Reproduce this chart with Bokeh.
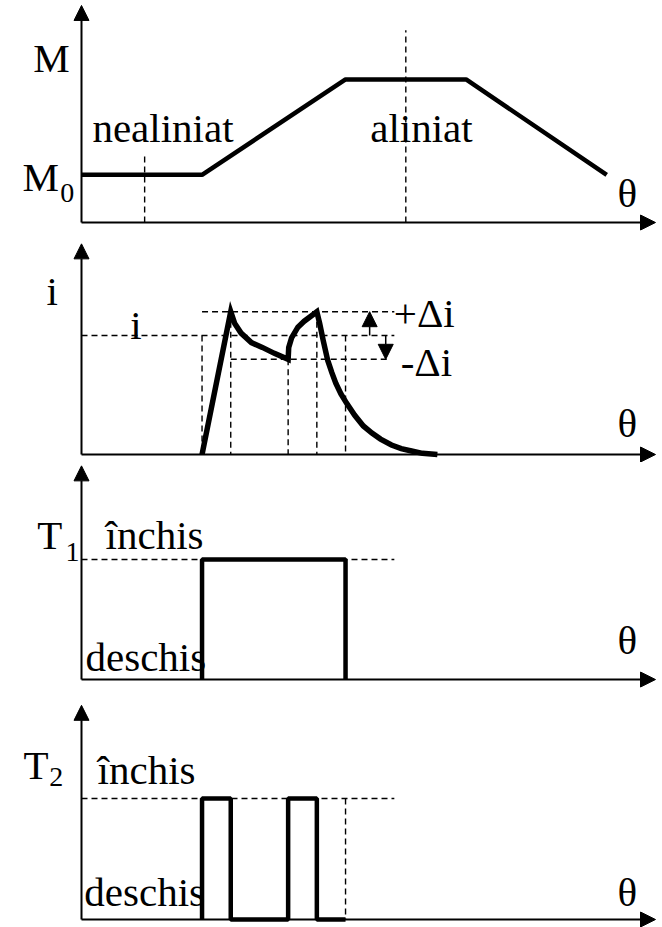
from bokeh.plotting import figure
from bokeh.layouts import column
from bokeh.models import Range1d, Arrow, NormalHead
from bokeh.core.properties import value
from bokeh.embed import file_html
from bokeh.resources import INLINE

# ---------------------------------------------------------------------------
# Data: rotor angle θ (arbitrary units, 0..100 along the axis)
# ---------------------------------------------------------------------------
THETA_END = 100.0

# switching instants of the converter
theta_on, theta_a, theta_b, theta_c, theta_off = 21.0, 26.0, 36.0, 41.0, 46.0
theta_guide_end = 54.5      # where the horizontal guides stop
theta_lower_guide_end = 53.6

# torque profile M(θ)
M0 = 1.0
M_MAX = 3.0
m_theta = [0.0, 21.0, 46.0, 67.0, 91.5]
m_vals = [M0, M0, M_MAX, M_MAX, M0]
theta_unaligned = 11.0
theta_aligned = 56.5
m_unaligned_guide_top = 1.47
m_aligned_guide_top = 4.03

# phase current i(θ) with hysteresis band i_ref ± Δi
i_ref = 1.0
delta_i = 0.2
i_theta = [21.0, 26.0, 26.7, 27.8, 29.6, 31.5, 33.6, 36.0,
           36.1, 36.6, 37.7, 38.8, 39.9, 41.0,
           41.5, 42.1, 42.9, 43.6, 44.3, 45.2, 46.2, 47.6, 49.1,
           50.6, 52.1, 54.0, 55.7, 57.5, 59.4, 62.0]
i_vals = [0.0, 1.2, 1.1, 1.02, 0.94, 0.9, 0.85, 0.8,
          0.9, 0.98, 1.07, 1.12, 1.16, 1.2,
          1.1, 0.96, 0.79, 0.69, 0.6, 0.51, 0.43, 0.33, 0.24,
          0.18, 0.13, 0.08, 0.05, 0.03, 0.01, 0.0]

# switch states: 0 = deschis, 1 = închis
t1_theta = [theta_on, theta_on, theta_off, theta_off]
t1_state = [0, 1, 1, 0]
t2_theta = [theta_on, theta_on, theta_a, theta_a, theta_b, theta_b,
            theta_c, theta_c, theta_off]
t2_state = [0, 1, 1, 0, 0, 1, 1, 0, 0]

# ---------------------------------------------------------------------------
# Layout
# ---------------------------------------------------------------------------
WIDTH = 662
ORIGIN_PX = 81.0          # left offset of the θ = 0 axis
PX_PER_THETA = 5.74
X_START = -ORIGIN_PX / PX_PER_THETA
X_END = (WIDTH - ORIGIN_PX) / PX_PER_THETA

FONT = value("'Liberation Serif', 'Times New Roman', serif")
BIG = 41
SUB = 28
BASELINE_SHIFT = 0.37     # svg text sits this many em below its anchor
DASH = "6 4"


def panel(height, y_start, y_end):
    p = figure(width=WIDTH, height=height,
               x_range=Range1d(X_START, X_END), y_range=Range1d(y_start, y_end),
               x_axis_type=None, y_axis_type=None,
               toolbar_location=None, output_backend="svg",
               min_border=0, min_border_left=0, min_border_right=0,
               min_border_top=0, min_border_bottom=0,
               outline_line_color=None,
               background_fill_color="white", border_fill_color="white")
    return p


def axes(p, y_top):
    for xe, ye in ((THETA_END, 0.0), (0.0, y_top)):
        p.add_layout(Arrow(end=NormalHead(size=15, fill_color="black",
                                          line_color="black", line_width=1),
                           x_start=0.0, y_start=0.0, x_end=xe, y_end=ye,
                           line_width=2, line_color="black"))


def label(p, x, y, txt, size=BIG):
    p.text(x=[x], y=[y], text=[txt], text_font=FONT,
           text_font_size=f"{size}px", y_offset=-BASELINE_SHIFT * size,
           text_baseline="alphabetic", text_align="left", text_color="black")


def guides(p, x0, y0, x1, y1):
    p.segment(x0=x0, y0=y0, x1=x1, y1=y1, line_color="black",
              line_width=1.4, line_dash=DASH)


# --- panel 1: M(θ) ----------------------------------------------------------
p1 = panel(233, -0.23, 4.654)
guides(p1, [theta_unaligned, theta_aligned], [0, 0],
       [theta_unaligned, theta_aligned], [m_unaligned_guide_top, m_aligned_guide_top])
p1.line(m_theta, m_vals, line_color="black", line_width=4.5)
axes(p1, 4.55)
label(p1, -8.4, 3.14, "M")
label(p1, -10.3, 0.63, "M")
label(p1, -3.7, 0.40, "0", SUB)
label(p1, 1.9, 1.66, "nealiniat")
label(p1, 50.3, 1.66, "aliniat")
label(p1, 93.4, 0.31, "θ")

# --- panel 2: i(θ) ----------------------------------------------------------
p2 = panel(229, -0.067, 1.857)
hi, lo = i_ref + delta_i, i_ref - delta_i
guides(p2,
       [theta_on, 0.0, theta_a, theta_on, theta_a, theta_b, theta_c, theta_off],
       [hi, i_ref, lo, i_ref, hi, lo, hi, i_ref],
       [theta_guide_end, theta_guide_end, theta_lower_guide_end,
        theta_on, theta_a, theta_b, theta_c, theta_off],
       [hi, i_ref, lo, 0, 0, 0, 0, 0])
p2.line(i_theta, i_vals, line_color="black", line_width=5.5, line_join="miter")
for xa, ye in ((50.2, hi), (53.0, lo)):
    p2.add_layout(Arrow(end=NormalHead(size=15, fill_color="black",
                                       line_color="black", line_width=1),
                        x_start=xa, y_start=i_ref, x_end=xa, y_end=ye,
                        line_width=1.5, line_color="black"))
axes(p2, 1.77)
label(p2, -6.1, 1.25, "i")
label(p2, 8.5, 0.96, "i")
label(p2, 54.4, 1.06, "+Δi")
label(p2, 55.6, 0.65, "-Δi")
label(p2, 93.4, 0.14, "θ")

# --- panel 3: T1 ------------------------------------------------------------
p3 = panel(230, -0.108, 1.808)
guides(p3, [0.0], [1], [theta_guide_end], [1])
p3.line(t1_theta, t1_state, line_color="black", line_width=4.5)
axes(p3, 1.78)
label(p3, -7.7, 1.075, "T")
label(p3, -2.8, 0.975, "1", SUB)
label(p3, 4.2, 1.075, "închis")
label(p3, 0.7, 0.058, "deschis")
label(p3, 93.4, 0.2, "θ")

# --- panel 4: T2 ------------------------------------------------------------
p4 = panel(235, -0.066, 1.876)
guides(p4, [0.0, theta_off], [1, 1], [theta_guide_end, theta_off], [1, 0])
p4.line(t2_theta, t2_state, line_color="black", line_width=4.5)
axes(p4, 1.77)
label(p4, -10.1, 1.15, "T")
label(p4, -5.6, 1.09, "2", SUB)
label(p4, 2.8, 1.107, "închis")
label(p4, 0.5, 0.1, "deschis")
label(p4, 93.4, 0.1, "θ")

layout = column(p1, p2, p3, p4, spacing=0)

open("out.html", "w").write(file_html(layout, INLINE))
